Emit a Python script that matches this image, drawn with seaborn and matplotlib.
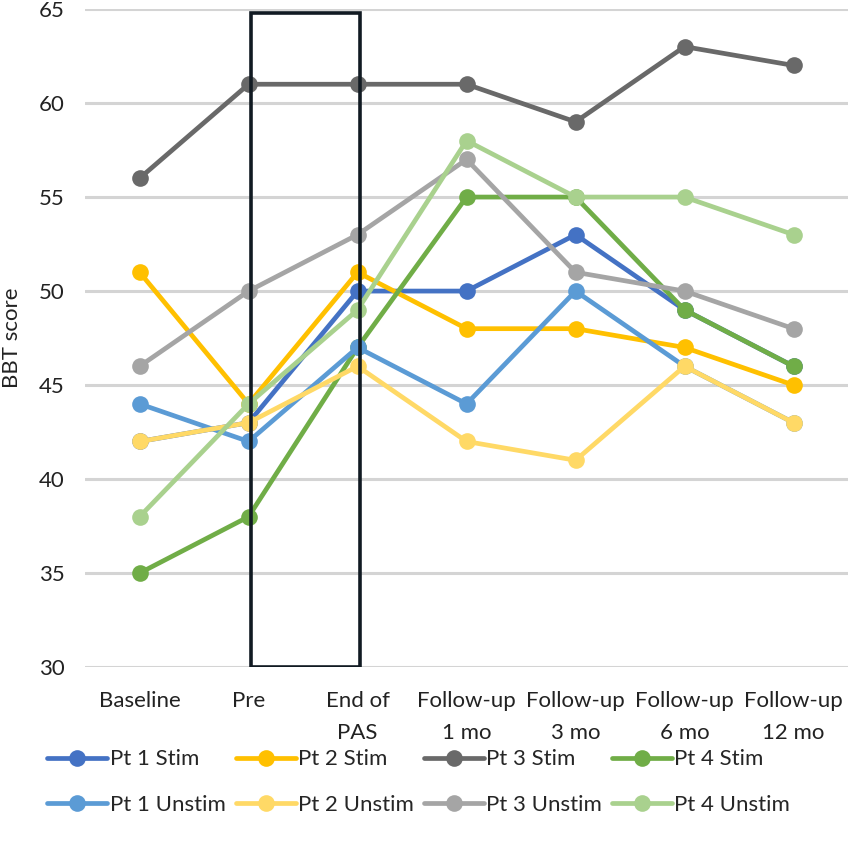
import matplotlib
matplotlib.use("Agg")
import matplotlib.pyplot as plt
from matplotlib.patches import Rectangle
from matplotlib.lines import Line2D
import seaborn as sns
import pandas as pd

categories = ["Baseline", "Pre", "End of\nPAS", "Follow-up\n1 mo", "Follow-up\n3 mo",
              "Follow-up\n6 mo", "Follow-up\n12 mo"]
series_names = ["Pt 1 Stim", "Pt 2 Stim", "Pt 3 Stim", "Pt 4 Stim",
                "Pt 1 Unstim", "Pt 2 Unstim", "Pt 3 Unstim", "Pt 4 Unstim"]
pt1_stim = [42, 43, 50, 50, 53, 49, 46]
pt2_stim = [51, 44, 51, 48, 48, 47, 45]
pt3_stim = [56, 61, 61, 61, 59, 63, 62]
pt4_stim = [35, 38, 47, 55, 55, 49, 46]
pt1_unstim = [44, 42, 47, 44, 50, 46, 43]
pt2_unstim = [42, 43, 46, 42, 41, 46, 43]
pt3_unstim = [46, 50, 53, 57, 51, 50, 48]
pt4_unstim = [38, 44, 49, 58, 55, 55, 53]
colors = ["#4472C4", "#FFC000", "#696969", "#70AD47",
          "#5B9BD5", "#FFD966", "#A5A5A5", "#A9D18E"]

all_vals = [pt1_stim, pt2_stim, pt3_stim, pt4_stim,
            pt1_unstim, pt2_unstim, pt3_unstim, pt4_unstim]
rows = []
for name, vals in zip(series_names, all_vals):
    for i, v in enumerate(vals):
        rows.append({"series": name, "x": i, "score": v})
df = pd.DataFrame(rows)

sns.set_theme(style="white")
plt.rcParams['font.family'] = ['Lato', 'DejaVu Sans']

FS = 16
LW = 3.4
MS = 12

fig = plt.figure(figsize=(8.51, 8.52), dpi=100)
ax = fig.add_axes([0.1, 0.217, 0.8965, 0.7724])

ax.set_ylim(30, 65)
ax.set_xlim(-0.5, 6.5)
ax.set_yticks(range(30, 66, 5))
ax.grid(axis='y', color='#d4d4d4', linewidth=2.2, zorder=0)
ax.set_axisbelow(True)

for k, name in enumerate(series_names):
    sub = df[df["series"] == name]
    sns.lineplot(data=sub, x="x", y="score", ax=ax, color=colors[k],
                 linewidth=LW, marker='o', markersize=MS, markeredgewidth=0,
                 legend=False, zorder=3 + k)

ax.add_patch(Rectangle((1.02, 30), 1.0, 34.8, fill=False, edgecolor='#111a22',
                       linewidth=2.6, zorder=20))

for s in ax.spines.values():
    s.set_visible(False)
ax.set_xticks(range(len(categories)))
ax.set_xticklabels(categories, fontsize=FS, color='#222222', linespacing=1.75)
ax.tick_params(axis='x', length=0, pad=17)
ax.tick_params(axis='y', length=0, labelsize=FS, labelcolor='#222222', pad=15)
ax.set_xlabel("")
ax.set_ylabel("BBT score", fontsize=FS, color='#222222', labelpad=12)

order = [0, 4, 1, 5, 2, 6, 3, 7]
handles = [Line2D([0], [0], color=colors[i], linewidth=LW, marker='o', markersize=MS,
                  markeredgewidth=0) for i in order]
labels = [series_names[i] for i in order]
fig.legend(handles, labels, loc='center', ncol=4, frameon=False,
           bbox_to_anchor=(0.492, 0.082), fontsize=FS, handlelength=2.7,
           handletextpad=0.1, columnspacing=0.45, labelspacing=1.15)

fig.savefig("out.png", dpi=100)
